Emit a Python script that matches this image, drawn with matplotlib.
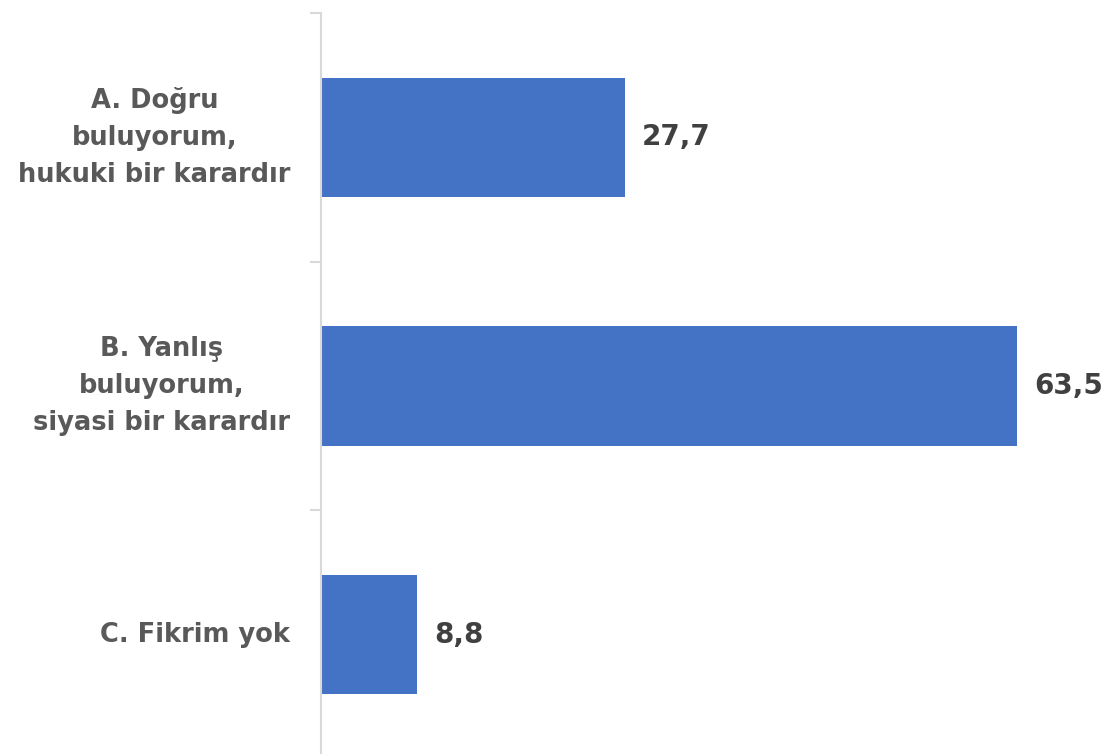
import matplotlib
matplotlib.use("Agg")
import matplotlib.pyplot as plt
from matplotlib.ticker import FixedLocator

categories = ["A. Doğru\nbuluyorum,\nhukuki bir karardır",
              "B. Yanlış\nbuluyorum,\nsiyasi bir karardır",
              "C. Fikrim yok"]
values = [27.7, 63.5, 8.8]
value_labels = ["27,7", "63,5", "8,8"]

plt.rcParams['font.family'] = ['DejaVu Sans']

fig = plt.figure(figsize=(11.02, 7.54), dpi=100)
ax = fig.add_axes([321/1102, 1 - 759/754, 1 - 321/1102, (759 - 13)/754])

ypos = [0, 1, 2]
ax.barh(ypos, values, height=0.48, color="#4472C4", edgecolor="none", zorder=1)
ax.set_ylim(2.5, -0.5)
ax.set_xlim(0, (1102 - 321) / 10.96)

for y, v, t in zip(ypos, values, value_labels):
    ax.annotate(t, xy=(v, y), xytext=(17, 0), textcoords="offset pixels",
                ha="left", va="center", fontsize=20, fontweight="bold", color="#404040")

ax.set_yticks(ypos)
ax.set_yticklabels(categories, fontsize=18.5, fontweight="bold", color="#595959",
                   multialignment="center", linespacing=1.55, va="center")
ax.tick_params(axis="y", which="major", length=0, pad=22)
ax.yaxis.set_minor_locator(FixedLocator([-0.5, 0.5, 1.5, 2.5]))
ax.tick_params(axis="y", which="minor", length=8, width=1.5, color="#d9d9d9")
ax.set_xticks([])

for s in ["top", "right", "bottom"]:
    ax.spines[s].set_visible(False)
ax.spines["left"].set_color("#d9d9d9")
ax.spines["left"].set_linewidth(1.5)

fig.savefig("out.png", dpi=100)
